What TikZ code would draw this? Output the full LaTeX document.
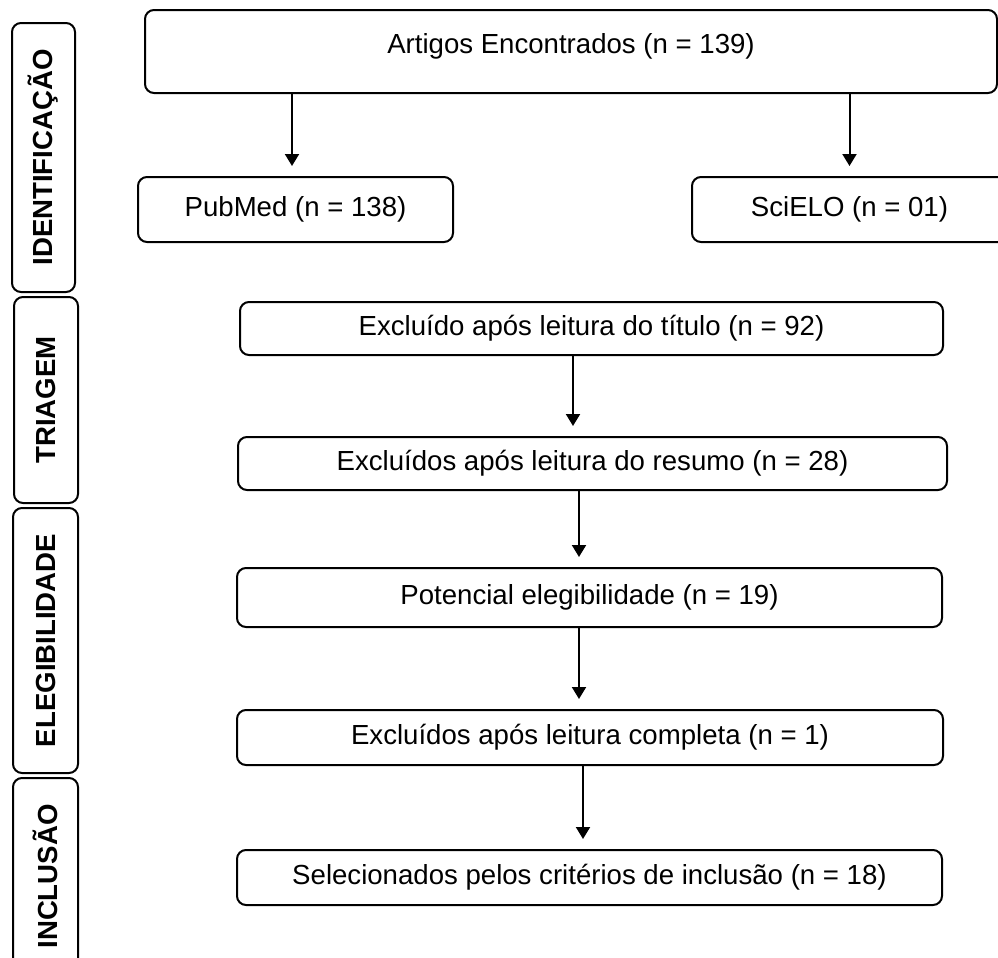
\documentclass[tikz,border=0pt]{standalone}
\usepackage{fontspec}
\setmainfont{Liberation Sans}
\usetikzlibrary{arrows.meta}

\tikzset{
  caixa/.style={draw, line width=1pt, rounded corners=4.5pt, align=center,
    font=\fontsize{13.8}{16}\selectfont, inner sep=0pt},
  fase/.style={draw, line width=1pt, rounded corners=4.5pt, rotate=90,
    font=\fontsize{13.8}{16}\selectfont\bfseries, inner sep=0pt},
  seta/.style={-{Triangle[width=7pt,length=6pt]}, line width=1pt, shorten >=5pt},
}

\begin{document}
\begin{tikzpicture}[x=0.5pt,y=-0.5pt]
    % ==== Canvas ====
    \useasboundingbox (0,0) rectangle (998,958);
    \clip (0,0) rectangle (998,958);

    % Phases on the left
    \node[fase, minimum width=134.5pt, minimum height=31.5pt] (ident) at (43.5,157.5) {IDENTIFICAÇÃO};
    \node[fase, minimum width=103pt, minimum height=32pt] (triagem) at (46,400) {TRIAGEM};
    \node[fase, minimum width=132.5pt, minimum height=32.5pt] (elegib) at (45.5,640.5) {ELEGIBILIDADE};
    \node[fase, minimum width=98.5pt, minimum height=32.5pt] (inclusao) at (45.5,876.5) {INCLUSÃO};

    % Identification
    \node[caixa, minimum width=426pt, minimum height=41.5pt, text height=10pt, text depth=7.6pt]
        (artigos) at (571,51.5) {Artigos Encontrados (n = 139)};
    \node[caixa, minimum width=157.5pt, minimum height=32.5pt] (pubmed) at (295.5,209.5) {PubMed (n = 138)};
    \node[caixa, minimum width=157.5pt, minimum height=32.5pt] (scielo) at (849.5,209.5) {SciELO (n = 01)};

    % Screening, eligibility, inclusion
    \node[caixa, minimum width=351.5pt, minimum height=26.5pt] (titulo) at (591.5,328.5) {Excluído após leitura do título (n = 92)};
    \node[caixa, minimum width=354.5pt, minimum height=26.5pt] (resumo) at (592.5,463.5) {Excluídos após leitura do resumo (n = 28)};
    \node[caixa, minimum width=352.5pt, minimum height=29.5pt] (potencial) at (589.5,597.5) {Potencial elegibilidade (n = 19)};
    \node[caixa, minimum width=353pt, minimum height=27.5pt] (completa) at (590,737.5) {Excluídos após leitura completa (n = 1)};
    \node[caixa, minimum width=352.5pt, minimum height=27.5pt] (selecao) at (589.5,877.5) {Selecionados pelos critérios de inclusão (n = 18)};

    % Arrows
    \draw[seta] ([xshift=-1.75pt]artigos.south -| pubmed.north) -- ([xshift=-1.75pt]pubmed.north);
    \draw[seta] (artigos.south -| scielo.north) -- (scielo.north);
    \foreach \a/\b/\s in {titulo/resumo/-9.25, resumo/potencial/-6.75,
                          potencial/completa/-5.25, completa/selecao/-3.5}{
        \draw[seta] ([xshift=\s pt]\a.south) -- ([xshift=\s pt]\a.south |- \b.north);
      }
  \end{tikzpicture}
\end{document}
